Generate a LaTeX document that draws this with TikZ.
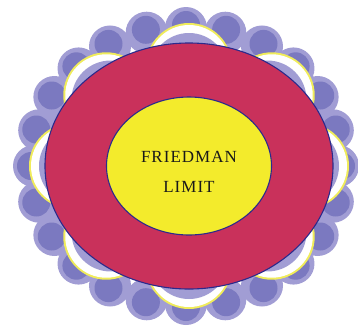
\documentclass[tikz,border=0pt]{standalone}
\usepackage{fontspec}
\newfontfamily\tfont[LetterSpace=6]{Liberation Serif}
\usetikzlibrary{shapes.geometric}
\definecolor{lpurple}{HTML}{A19DD4}
\definecolor{dpurple}{HTML}{7B79C0}
\definecolor{crimson}{HTML}{C9315B}
\definecolor{lemon}{HTML}{F3EB2C}
\definecolor{navy}{HTML}{2B2A8C}
\definecolor{rimyellow}{HTML}{F0EC5A}
\tikzset{
  bumpout/.style={fill=lpurple},
  bumpin/.style={fill=dpurple},
  ring/.style={ellipse, draw=navy, line width=1.1pt, inner sep=0pt},
  label/.style={align=center, text=black!90, font=\tfont\fontsize{17}{30}\selectfont}
}
\begin{document}
\begin{tikzpicture}[x=1pt,y=-1pt]
\useasboundingbox (0,0) rectangle (358,325);
% scalloped bumps
\foreach \a in {0,15,...,345} {
  \coordinate (bo) at ({186+152*cos(\a)},{166+138*sin(\a)});
  \coordinate (bi) at ({186+155*cos(\a)},{166+141*sin(\a)});
  \fill[bumpout] (bo) circle[radius=21pt];
  \fill[bumpin] (bi) circle[radius=14pt];
}
% petals
\foreach \a in {0,45,...,315} {
  \coordinate (po) at ({189+117*cos(\a)},{166+100*sin(\a)});
  \coordinate (pi) at ({189+111*cos(\a)},{166+94*sin(\a)});
  \fill[rimyellow] (po) circle[radius=43pt];
  \fill[white] (po) circle[radius=41pt];
  \fill[lpurple] (pi) circle[radius=39pt];
}
\node[ring, fill=crimson, minimum width=288pt, minimum height=246pt] (outer) at (189,166) {};
\node[ring, fill=lemon, minimum width=165pt, minimum height=138pt] (inner) at (189,166) {};
\node[label] (txt) at (189,172) {FRIEDMAN\\LIMIT};
\end{tikzpicture}
\end{document}
